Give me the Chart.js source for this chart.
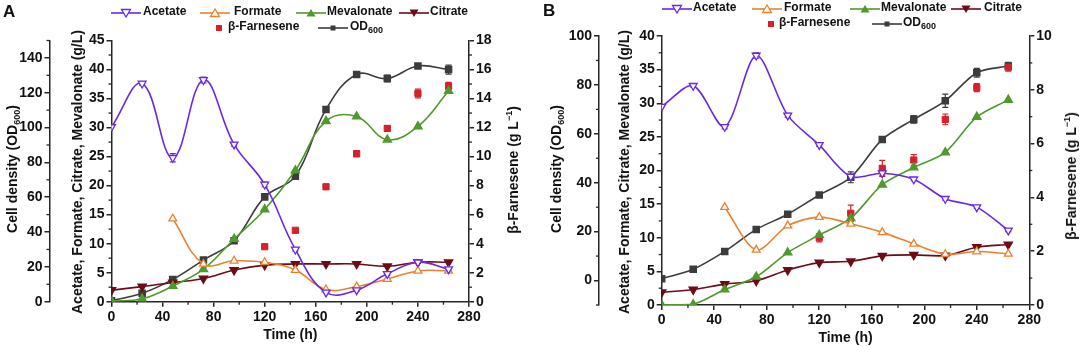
<!DOCTYPE html>
<html>
<head>
<meta charset="utf-8">
<script src="https://cdn.jsdelivr.net/npm/chart.js@4.4.1/dist/chart.umd.min.js"></script>
<style>
  body { margin: 0; background: #fff; }
  #wrap { position: relative; width: 1080px; height: 347px; overflow: hidden;
          font-family: "Liberation Sans", Arial, sans-serif; font-weight: bold; color: #111; }
  canvas { position: absolute; top: 0; }
  .vt { position: absolute; white-space: nowrap; font-size: 14px; line-height: 16px;
        transform: translate(-50%, -50%) rotate(-90deg); }
  .lg { position: absolute; white-space: nowrap; font-size: 12px; line-height: 14px; }
  .sym { position: absolute; }
  .tag { position: absolute; font-size: 17px; }
  sub { font-size: 9px; vertical-align: -3px; line-height: 0; }
  sup { font-size: 9px; vertical-align: 6px; line-height: 0; }
</style>
</head>
<body>
<div id="wrap">
  <canvas id="chart_a" width="540" height="347" style="left:0px"></canvas>
  <canvas id="chart_b" width="540" height="347" style="left:540px"></canvas>

  <div class="tag" style="left:3px; top:2px">A</div>
  <div class="tag" style="left:543px; top:1px">B</div>

  <div class="vt" style="left:12px; top:169px">Cell density (OD<sub>600</sub>)</div>
  <div class="vt" style="left:77px; top:172px">Acetate, Formate, Citrate, Mevalonate (g/L)</div>
  <div class="vt" style="left:513px; top:170px">β-Farnesene (g L<sup>−1</sup>)</div>

  <div class="vt" style="left:556px; top:169px">Cell density (OD<sub>600</sub>)</div>
  <div class="vt" style="left:624px; top:172px">Acetate, Formate, Citrate, Mevalonate (g/L)</div>
  <div class="vt" style="left:1071px; top:176px">β-Farnesene (g L<sup>−1</sup>)</div>
</div>

<script>
// sampling times (h)
const timeH = [0, 24, 48, 72, 96, 120, 144, 168, 192, 216, 240, 264];

// ---- panel A ----
const acetateA    = [30.1, 37.6, 24.8, 38.2, 27.1, 20.2, 9.0, 1.6, 2.0, 4.8, 6.8, 5.6];
const formateA    = [null, null, 14.3, 6.5, 7.05, 6.8, 5.45, 2.1, 2.6, 3.9, 5.3, 5.3];
const mevalonateA = [0.1, 0.5, 2.7, 5.6, 10.8, 15.9, 22.6, 31.1, 31.9, 27.9, 30.2, 36.3];
const citrateA    = [2.0, 2.6, 3.3, 4.0, 5.45, 6.3, 6.5, 6.5, 6.5, 6.1, 6.8, 6.8];
const farneseneA  = [null, null, null, null, null, 3.79, 4.92, 7.92, 10.2, 11.94, 14.35, 14.86];
const odA         = [0.6, 4.8, 12.8, 23.9, 35.0, 60.2, 72.1, 110.4, 130.5, 128.2, 135.4, 133.3];

const acetateErrA   = [0, 0.3, 0.7, 0.5, 0.3, 0.4, 0.3, 0, 0.2, 0.3, 0.2, 0];
const farneseneErrA = [0, 0, 0, 0, 0, 0.1, 0.1, 0.15, 0.2, 0.2, 0.3, 0.25];
const odErrA        = [0, 0, 0, 1, 0, 1, 1, 1, 1.5, 2, 1, 2.6];

// ---- panel B ----
const acetateB    = [29.5, 32.6, 26.5, 37.1, 28.2, 23.8, 19.1, 19.6, 18.7, 15.8, 14.55, 11.1];
const formateB    = [null, null, 14.55, 8.2, 11.8, 13.06, 12.07, 10.8, 9.1, 7.55, 7.95, 7.6];
const mevalonateB = [0, 0.1, 2.3, 4.2, 7.8, 10.4, 12.9, 17.9, 20.45, 22.7, 27.96, 30.5];
const citrateB    = [1.9, 2.3, 3.1, 3.6, 5.2, 6.3, 6.5, 7.3, 7.45, 7.35, 8.6, 9.0];
const farneseneB  = [null, null, null, null, null, 2.5, 3.41, 5.08, 5.39, 6.9, 8.08, 8.84];
const odB         = [0.7, 4.6, 11.9, 20.9, 27.1, 35.0, 42.2, 57.7, 65.9, 73.5, 85.0, 87.7];

const acetateErrB   = [0, 0.2, 0.3, 0.4, 0.3, 0.2, 0.3, 0.4, 0.2, 0.2, 0.2, 0.2];
const farneseneErrB = [0, 0, 0, 0, 0, 0.15, 0.3, 0.3, 0.2, 0.2, 0.15, 0.15];
const odErrB        = [0, 0, 0, 0, 0, 0.8, 2.2, 1.2, 1.5, 2.7, 1.8, 1.5];

const PURPLE = "#6a28e6";
const ORANGE = "#e8822f";
const GREEN  = "#4f9a2c";
const DKRED  = "#6e0b16";
const RED    = "#d4212b";
const GREY   = "#3c3c3c";
const AXIS   = "#262626";

Chart.defaults.font.family = '"Liberation Sans", Arial, sans-serif';
Chart.defaults.font.size = 14;
Chart.defaults.font.weight = "bold";
Chart.defaults.color = "#111";

function pts(values, errs) {
    let out = [];
    for (let i = 0; i < timeH.length; i++) {
        if (values[i] === null) continue;
        out.push({ x: timeH[i], y: values[i], e: errs ? errs[i] : 0 });
    }
    return out;
}

// vertical error bars, drawn under the markers
const errorBars = {
    id: "errorBars",
    beforeDatasetsDraw(chart) {
        const ctx = chart.ctx;
        chart.data.datasets.forEach((ds, di) => {
            const meta = chart.getDatasetMeta(di);
            const ys = chart.scales[ds.yAxisID];
            ctx.save();
            ctx.strokeStyle = ds.borderColor;
            ctx.lineWidth = 1.2;
            meta.data.forEach((p, i) => {
                const e = ds.data[i].e;
                if (!e) return;
                const top = ys.getPixelForValue(ds.data[i].y + e);
                const bot = ys.getPixelForValue(ds.data[i].y - e);
                ctx.beginPath();
                ctx.moveTo(p.x, top); ctx.lineTo(p.x, bot);
                ctx.moveTo(p.x - 3, top); ctx.lineTo(p.x + 3, top);
                ctx.moveTo(p.x - 3, bot); ctx.lineTo(p.x + 3, bot);
                ctx.stroke();
            });
            ctx.restore();
        });
    }
};

// short ticks half way between the labelled ones
const minorTicks = {
    id: "minorTicks",
    afterDraw(chart) {
        const ctx = chart.ctx;
        ctx.save();
        ctx.strokeStyle = AXIS;
        ctx.lineWidth = 1.3;
        Object.values(chart.scales).forEach(s => {
            const half = s.options.ticks.stepSize / 2;
            for (let v = Math.ceil(s.min / half) * half; v <= s.max + 1e-9; v += half) {
                if (Math.abs(Math.round(v / half)) % 2 === 0) continue;
                const px = s.getPixelForValue(v);
                ctx.beginPath();
                if (s.axis === "x") {
                    ctx.moveTo(px, s.top); ctx.lineTo(px, s.top + 3);
                } else if (s.position === "left") {
                    ctx.moveTo(s.right, px); ctx.lineTo(s.right - 3, px);
                } else {
                    ctx.moveTo(s.left, px); ctx.lineTo(s.left + 3, px);
                }
                ctx.stroke();
            }
        });
        ctx.restore();
    }
};

function axisStyle(extra) {
    return Object.assign({
        border: { display: true, color: AXIS, width: 1.5 },
        grid: { drawOnChartArea: false, drawTicks: true, tickLength: 5, color: AXIS, lineWidth: 1.5 },
    }, extra);
}

function makePanel(id, d, lay) {
    return new Chart(id, {
        type: "line",
        data: {
            datasets: [
                {
                    label: "Acetate", data: pts(d.acetate, d.acetateErr), yAxisID: "y",
                    borderColor: PURPLE, borderWidth: 1.6, tension: lay.tension,
                    pointStyle: "triangle", rotation: 180, pointRadius: 4.5,
                    pointBackgroundColor: "#fff", pointBorderColor: PURPLE, pointBorderWidth: 1.3
                },
                {
                    label: "Formate", data: pts(d.formate), yAxisID: "y",
                    borderColor: ORANGE, borderWidth: 1.6, tension: lay.tension,
                    pointStyle: "triangle", pointRadius: 4.5,
                    pointBackgroundColor: "#fff", pointBorderColor: ORANGE, pointBorderWidth: 1.3
                },
                {
                    label: "Mevalonate", data: pts(d.mevalonate), yAxisID: "y",
                    borderColor: GREEN, borderWidth: 1.6, tension: lay.tension,
                    pointStyle: "triangle", pointRadius: 4.5,
                    pointBackgroundColor: GREEN, pointBorderColor: GREEN
                },
                {
                    label: "Citrate", data: pts(d.citrate), yAxisID: "y",
                    borderColor: DKRED, borderWidth: 1.6, tension: lay.tension,
                    pointStyle: "triangle", rotation: 180, pointRadius: 4.5,
                    pointBackgroundColor: DKRED, pointBorderColor: DKRED
                },
                {
                    label: "β-Farnesene", data: pts(d.farnesene, d.farneseneErr), yAxisID: "yF",
                    showLine: false, borderColor: RED,
                    pointStyle: "rect", pointRadius: 4.4,
                    pointBackgroundColor: RED, pointBorderColor: RED
                },
                {
                    label: "OD600", data: pts(d.od, d.odErr), yAxisID: "yOD",
                    borderColor: GREY, borderWidth: 1.6, tension: lay.tension,
                    pointStyle: "rect", pointRadius: 4.2,
                    pointBackgroundColor: GREY, pointBorderColor: GREY
                }
            ]
        },
        options: {
            responsive: false,
            animation: false,
            layout: { padding: { top: lay.top, left: 0, right: 0, bottom: 0 } },
            plugins: { legend: { display: false }, tooltip: { enabled: false } },
            scales: {
                x: axisStyle({
                    type: "linear", min: 0, max: 280,
                    ticks: { stepSize: 40, padding: 2 },
                    title: { display: true, text: "Time (h)", padding: { top: 0, bottom: lay.titlePad } },
                    afterFit: s => { s.height = lay.xH; }
                }),
                yOD: axisStyle({
                    position: "left", weight: 2, min: d.odMin, max: d.odMax,
                    ticks: { stepSize: 20, padding: 2, includeBounds: false },
                    afterFit: s => { s.width = lay.odW; }
                }),
                y: axisStyle({
                    position: "left", weight: 1, min: 0, max: d.gMax,
                    ticks: { stepSize: 5, padding: 2 },
                    afterFit: s => { s.width = lay.gW; }
                }),
                yF: axisStyle({
                    position: "right", min: 0, max: d.fMax,
                    ticks: { stepSize: 2, padding: 2 },
                    afterFit: s => { s.width = lay.fW; }
                })
            }
        },
        plugins: [errorBars, minorTicks]
    });
}

var ChartA = makePanel("chart_a", {
    acetate: acetateA, acetateErr: acetateErrA, formate: formateA, mevalonate: mevalonateA,
    citrate: citrateA, farnesene: farneseneA, farneseneErr: farneseneErrA, od: odA, odErr: odErrA,
    odMin: 0, odMax: 150, gMax: 45, fMax: 18
}, { top: 40.5, xH: 45.3, odW: 49.5, gW: 62, fW: 71, tension: 0.4, titlePad: 3 });

var ChartB = makePanel("chart_b", {
    acetate: acetateB, acetateErr: acetateErrB, formate: formateB, mevalonate: mevalonateB,
    citrate: citrateB, farnesene: farneseneB, farneseneErr: farneseneErrB, od: odB, odErr: odErrB,
    odMin: -10, odMax: 100, gMax: 40, fMax: 10
}, { top: 36, xH: 42, odW: 59, gW: 62.7, fW: 50.7, tension: 0.3, titlePad: 0 });

// ---- legends ----
const legendNames = ["Acetate", "Formate", "Mevalonate", "Citrate", "β-Farnesene", "OD<sub>600</sub>"];

function symbolSvg(k) {
    const mk = {
        0: `<polygon points="15,10 10.5,2.5 19.5,2.5" fill="#fff" stroke="${PURPLE}" stroke-width="1.3"/>`,
        1: `<polygon points="15,2 10.5,9.5 19.5,9.5" fill="#fff" stroke="${ORANGE}" stroke-width="1.3"/>`,
        2: `<polygon points="15,2 10.5,9.5 19.5,9.5" fill="${GREEN}"/>`,
        3: `<polygon points="15,10 10.5,2.5 19.5,2.5" fill="${DKRED}"/>`,
        4: `<rect x="12" y="3" width="6" height="6" fill="${RED}"/>`,
        5: `<rect x="12.5" y="3.5" width="5" height="5" fill="${GREY}"/>`
    };
    const col = [PURPLE, ORANGE, GREEN, DKRED, null, GREY][k];
    const line = col ? `<line x1="0" y1="6" x2="30" y2="6" stroke="${col}" stroke-width="1.6"/>` : "";
    return `<svg width="30" height="12" viewBox="0 0 30 12">${line}${mk[k]}</svg>`;
}

// [symbol left, text left, row centre y]
const legendSpotsA = [[111, 143, 11], [200, 234, 11], [296, 327, 11], [399, 430, 11], [204, 228, 26], [318, 350, 26]];
const legendSpotsB = [[662, 693, 7], [752, 784, 7], [850, 881, 7], [951, 984, 7], [756, 779, 22], [872, 903, 22]];

const wrap = document.getElementById("wrap");
[legendSpotsA, legendSpotsB].forEach(spots => {
    spots.forEach((s, k) => {
        const sym = document.createElement("div");
        sym.className = "sym";
        sym.style.left = s[0] + "px";
        sym.style.top = (s[2] - 6) + "px";
        sym.innerHTML = symbolSvg(k);
        wrap.appendChild(sym);

        const txt = document.createElement("div");
        txt.className = "lg";
        txt.style.left = s[1] + "px";
        txt.style.top = (s[2] - 7) + "px";
        txt.innerHTML = legendNames[k];
        wrap.appendChild(txt);
    });
});
</script>
</body>
</html>
